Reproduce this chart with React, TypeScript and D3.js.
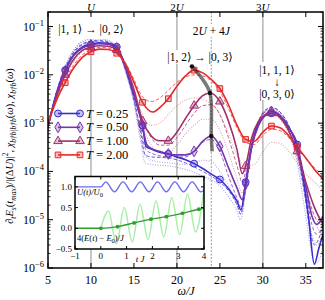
import React from "react"
import * as d3 from "d3"

type P = [number, number]

// main axes
const xTicks = [5, 10, 15, 20, 25, 30, 35]
const yExps = [-6, -5, -4, -3, -2, -1]
const resonances = [10, 20, 30]
const resLabels = ["U", "2U", "3U"]
const temps = ["0.25", "0.50", "1.00", "2.00"]
const colors = ["#3a2ed0", "#7436b0", "#a0306e", "#e52a2a"]
const markerX = [7, 10, 13, 16, 19, 22, 25, 28, 31, 34]

// solid curves (with markers)
const t025: P[] = [[5,9e-4],[6,4.2e-3],[7,1.25e-2],[8,2.6e-2],[9,3.8e-2],[10,4.3e-2],[11,4.6e-2],[12,4.5e-2],[13,3.8e-2],[14,1.5e-2],[14.7,5.6e-3],[15.5,1.9e-3],[16,9e-4],[16.4,3.3e-4],[17,2.9e-4],[18,2.5e-4],[19,2.3e-4],[20,2.0e-4],[21,1.75e-4],[22,1.45e-4],[23,1.15e-4],[24,8.8e-5],[25,6.8e-5],[26,4.4e-5],[27,2.4e-5],[27.45,1.6e-5],[28,6e-5],[28.6,2.6e-4],[29.3,8e-4],[30.2,1.4e-3],[31,1.6e-3],[32,1.35e-3],[33,8e-4],[34,3.6e-4],[34.7,7e-5],[35.3,1.2e-5],[36,1.2e-6],[36.5,2.5e-6],[37,5e-6]]
const t050: P[] = [[5,9e-4],[6,4e-3],[7,1.2e-2],[8,2.5e-2],[9,3.6e-2],[10,4.1e-2],[11,4.4e-2],[12,4.3e-2],[13,3.6e-2],[14,1.5e-2],[14.7,6e-3],[15.5,2e-3],[16,8.5e-4],[16.5,3.6e-4],[17,3e-4],[18,2.6e-4],[19,2.3e-4],[20,2.2e-4],[21,2.2e-4],[22,2.6e-4],[23,4.2e-4],[24,5.4e-4],[25,3.3e-4],[26,1.2e-4],[27,4.5e-5],[27.6,2.6e-5],[28,5.5e-5],[28.7,3.2e-4],[29.5,9e-4],[30.3,1.5e-3],[31,1.75e-3],[32,1.45e-3],[33,8.5e-4],[34,3.3e-4],[35,5e-5],[35.7,1.2e-5],[36.3,8e-6],[37,1.2e-5]]
const t100: P[] = [[5,9e-4],[6,3.6e-3],[7,1.0e-2],[8,2.1e-2],[9,3.2e-2],[10,3.7e-2],[11,4.0e-2],[12,3.9e-2],[13,3.3e-2],[14,1.6e-2],[15,5e-3],[16,1.1e-3],[17,5.5e-4],[18,4.3e-4],[19,4.3e-4],[20,6.5e-4],[21,1.25e-3],[22,2.3e-3],[23,3.7e-3],[23.85,4.2e-3],[25,2.8e-3],[26,1.1e-3],[27,2.8e-4],[27.6,9e-5],[28,1.3e-4],[28.7,5e-4],[29.5,1.1e-3],[30.3,1.5e-3],[31,1.6e-3],[32,1.3e-3],[33,7e-4],[34,2.6e-4],[35,6e-5],[36,1.8e-5],[37,8e-6]]
const t200: P[] = [[5,1e-3],[6,3e-3],[7,6.9e-3],[8,1.4e-2],[9,2.3e-2],[10,3.0e-2],[11,3.4e-2],[12,3.35e-2],[13,2.8e-2],[14,1.7e-2],[15,7e-3],[16,2.7e-3],[17.2,1.7e-3],[18,2.1e-3],[19,3.2e-3],[20,5.8e-3],[21,9.5e-3],[22,1.25e-2],[23,1.1e-2],[24,8e-3],[25,5.2e-3],[26,2.4e-3],[27,9e-4],[28,4.6e-4],[29,4.2e-4],[30,6.5e-4],[31,8.7e-4],[32,8e-4],[33,5.5e-4],[34,3.2e-4],[35,1.9e-4],[36,1.1e-4],[37,7e-5]]

// dashed curves
const t025d: P[] = [[5,8e-4],[6,4.5e-3],[7,1.4e-2],[8,3e-2],[9,4.4e-2],[10,5e-2],[11,5.2e-2],[12,4.8e-2],[13,3.6e-2],[14,1.3e-2],[15,3e-3],[15.8,6e-4],[16.3,2.2e-4],[17,2e-4],[19,1.9e-4],[21,1.5e-4],[23,1e-4],[25,6e-5],[26,4e-5],[27,2e-5],[27.4,1.3e-5],[28,5e-5],[28.6,3e-4],[29.5,1.1e-3],[30.3,1.8e-3],[31,2.1e-3],[32,1.7e-3],[33,9e-4],[34,2.5e-4],[34.8,4e-5],[35.5,6e-6],[36,3e-6],[36.5,4e-6],[37,8e-6]]
const t050d: P[] = [[5,8e-4],[6,4.3e-3],[7,1.35e-2],[8,2.9e-2],[9,4.2e-2],[10,4.8e-2],[11,5e-2],[12,4.6e-2],[13,3.5e-2],[14,1.3e-2],[15,3.2e-3],[15.8,7e-4],[16.4,2.8e-4],[17,2.4e-4],[19,2e-4],[21,2e-4],[22,2.6e-4],[23,4e-4],[24,4.6e-4],[25,2.6e-4],[26,8e-5],[27,2.8e-5],[27.5,1.8e-5],[28,4e-5],[28.7,3.5e-4],[29.5,1.1e-3],[30.3,1.9e-3],[31,2.1e-3],[32,1.7e-3],[33,9e-4],[34,2.8e-4],[35,4e-5],[35.7,8e-6],[36.3,5e-6],[37,8e-6]]
const t100d: P[] = [[5,9e-4],[6,3.9e-3],[7,1.15e-2],[8,2.5e-2],[9,3.7e-2],[10,4.3e-2],[11,4.5e-2],[12,4.2e-2],[13,3.3e-2],[14,1.5e-2],[15,4.5e-3],[16,1.2e-3],[17,5e-4],[18,3.5e-4],[19,3.5e-4],[20,5e-4],[21,9e-4],[22,1.6e-3],[23,2.3e-3],[24,2.4e-3],[25,1.5e-3],[26,5e-4],[27,1.3e-4],[27.6,6e-5],[28,1e-4],[28.7,4.5e-4],[29.5,1.1e-3],[30.3,1.7e-3],[31,1.8e-3],[32,1.4e-3],[33,7e-4],[34,2.2e-4],[35,4.5e-5],[36,1.2e-5],[37,7e-6]]
const t200d: P[] = [[5,1e-3],[6,3.3e-3],[7,8e-3],[8,1.6e-2],[9,2.6e-2],[10,3.3e-2],[11,3.7e-2],[12,3.6e-2],[13,3e-2],[14,1.8e-2],[15,8e-3],[16,3.5e-3],[17,2.8e-3],[18,3.3e-3],[19,4.8e-3],[20,7e-3],[21,9e-3],[22,1e-2],[23,9.5e-3],[24,7.5e-3],[25,4.5e-3],[26,2e-3],[27,8e-4],[28,4e-4],[29,3.6e-4],[30,5.5e-4],[31,7.5e-4],[32,7e-4],[33,5e-4],[34,3e-4],[35,1.9e-4],[36,1.2e-4],[37,8e-5]]

// dotted curves
const t025p: P[] = [[5,7e-4],[6,4.5e-3],[7,1.5e-2],[8,3.3e-2],[9,5e-2],[10,5.6e-2],[11,5.7e-2],[12,5.2e-2],[13,3.8e-2],[14,1.2e-2],[15,2.5e-3],[15.8,4e-4],[16.3,1.5e-4],[17,1.4e-4],[19,1.3e-4],[21,1.1e-4],[23,8e-5],[25,5e-5],[26,3e-5],[27,1.5e-5],[27.4,1e-5],[28,4e-5],[28.7,3e-4],[29.5,1e-3],[30.3,1.7e-3],[31,1.9e-3],[32,1.5e-3],[33,7e-4],[34,1.5e-4],[34.8,2e-5],[35.5,3e-6],[36,1.2e-6],[36.6,1.5e-6],[37,3e-6]]
const t050p: P[] = [[5,7e-4],[6,4.4e-3],[7,1.45e-2],[8,3.2e-2],[9,4.8e-2],[10,5.4e-2],[11,5.5e-2],[12,5e-2],[13,3.7e-2],[14,1.2e-2],[15,2.8e-3],[15.8,5e-4],[16.4,2e-4],[17,1.7e-4],[19,1.5e-4],[21,1.4e-4],[22,1.5e-4],[23,1.7e-4],[24,1.6e-4],[25,1e-4],[26,5e-5],[27,2e-5],[27.5,1.3e-5],[28,4e-5],[28.7,3e-4],[29.5,1e-3],[30.3,1.8e-3],[31,2e-3],[32,1.6e-3],[33,8e-4],[34,2e-4],[35,2.5e-5],[35.7,5e-6],[36.3,3e-6],[37,5e-6]]
const t100p: P[] = [[5,8e-4],[6,4e-3],[7,1.25e-2],[8,2.8e-2],[9,4.2e-2],[10,4.8e-2],[11,5e-2],[12,4.5e-2],[13,3.4e-2],[14,1.4e-2],[15,4e-3],[16,9e-4],[17,3.5e-4],[18,2.5e-4],[19,2.5e-4],[20,3.5e-4],[21,6e-4],[22,9e-4],[23,1.2e-3],[24,1.2e-3],[25,7e-4],[26,2.5e-4],[27,7e-5],[27.6,3.5e-5],[28,7e-5],[28.7,3.5e-4],[29.5,9e-4],[30.3,1.4e-3],[31,1.5e-3],[32,1.2e-3],[33,6e-4],[34,1.8e-4],[35,3.5e-5],[36,9e-6],[37,5e-6]]
const t200p: P[] = [[5,9e-4],[6,3.5e-3],[7,9e-3],[8,1.9e-2],[9,3e-2],[10,3.7e-2],[11,4e-2],[12,3.9e-2],[13,3.2e-2],[14,1.6e-2],[15,5e-3],[16,1.5e-3],[17,9e-4],[18,1e-3],[19,1.5e-3],[20,2.3e-3],[21,3e-3],[22,3.3e-3],[23,3.1e-3],[24,2.5e-3],[25,1.5e-3],[26,6e-4],[27,2.2e-4],[28,1.3e-4],[29,1.4e-4],[30,2.5e-4],[31,4e-4],[32,3.8e-4],[33,2.6e-4],[34,1.5e-4],[35,9e-5],[36,6e-5],[37,4e-5]]

const solid = [t025, t050, t100, t200]
const dashed = [t025d, t050d, t100d, t200d]
const dotted = [t025p, t050p, t100p, t200p]

// peak trajectory (thick grey)
const peakPath: P[] = [[21.75,1.5e-2],[22.9,8.5e-3],[23.85,4.2e-3],[24,5.4e-4],[24.1,2.6e-4]]
const peakDots: P[] = [[21.75,1.5e-2],[23.85,4.2e-3],[24,5.4e-4]]

// inset
const inXTicks = [-1, 0, 1, 2, 3, 4]
const inYTicks = [-0.5, 0, 0.5, 1.0]
const uT: P[] = [[-1,1],[0,1],[0.19,1.12],[0.53,0.88],[0.86,1.12],[1.2,0.88],[1.53,1.12],[1.87,0.88],[2.2,1.12],[2.54,0.88],[2.87,1.12],[3.21,0.88],[3.54,1.12],[3.88,0.88],[4,0.92]]
const eOsc: P[] = [[0,0],[0.3,0.42],[0.6,-0.38],[0.91,0.5],[1.22,-0.33],[1.52,0.58],[1.83,-0.27],[2.14,0.66],[2.44,-0.21],[2.75,0.74],[3.06,-0.15],[3.36,0.83],[3.67,-0.09],[4,0.95]]
const eMean: P[] = [[-1,0],[0,0],[0.65,0.04],[1.29,0.13],[1.94,0.22],[2.54,0.28],[3.16,0.36],[3.8,0.46],[4,0.48]]

const FONT = "'Liberation Serif', 'DejaVu Serif', serif"

const x = d3.scaleLinear().domain([5, 37]).range([48, 323])
const y = d3.scaleLog().domain([1e-6, 0.2]).range([268, 12])
const ix = d3.scaleLinear().domain([-1, 4]).range([75, 204])
const iy = d3.scaleLinear().domain([-0.5, 1.25]).range([249, 176.5])

const line = d3.line<P>().x(d => x(d[0])).y(d => y(d[1])).curve(d3.curveMonotoneX)
const inLine = d3.line<P>().x(d => ix(d[0])).y(d => iy(d[1])).curve(d3.curveMonotoneX)
const peakLine = d3.line<P>().x(d => x(d[0])).y(d => y(d[1])).curve(d3.curveCatmullRom)

const symbols = [d3.symbolCircle, d3.symbolDiamond, d3.symbolTriangle, d3.symbolSquare]
const symPath = (i: number) => d3.symbol().type(symbols[i]).size(i === 0 ? 38 : i === 1 ? 34 : 32)()

function Marker({ i, cx, cy }: { i: number; cx: number; cy: number }) {
  return (
    <path d={symPath(i) || ""} transform={`translate(${cx},${cy})`}
      fill={colors[i]} fillOpacity={0.3} stroke={colors[i]} strokeWidth={1} />
  )
}

export default function App() {
  const minorY: number[] = []
  yExps.forEach(e => {
    for (let k = 2; k <= 9; k++) {
      const v = k * Math.pow(10, e)
      if (v <= 0.2) minorY.push(v)
    }
  })
  const [x0, x1] = x.range()
  const [y0, y1] = y.range()

  return (
    <svg width={325} height={300} style={{ position: "fixed", left: 0, top: 0, background: "#fff" }}
      fontFamily={FONT}>
      <defs>
        <clipPath id="plot"><rect x={x0} y={y1} width={x1 - x0} height={y0 - y1} /></clipPath>
        <clipPath id="inset"><rect x={75} y={176.5} width={129} height={72.5} /></clipPath>
      </defs>

      {/* reference lines */}
      {resonances.map(r => (
        <line key={r} x1={x(r)} x2={x(r)} y1={y1} y2={y0} stroke="#b4b4b4" strokeWidth={1.5} />
      ))}
      <line x1={x(24)} x2={x(24)} y1={y1} y2={y0} stroke="#999" strokeWidth={1} strokeDasharray="2,1.5" />

      {/* curves */}
      <g clipPath="url(#plot)">
        {dotted.map((s, i) => (
          <path key={"p" + i} d={line(s) || ""} fill="none" stroke={colors[i]} strokeOpacity={0.45}
            strokeWidth={1.1} strokeDasharray="1,1.5" />
        ))}
        {dashed.map((s, i) => (
          <path key={"d" + i} d={line(s) || ""} fill="none" stroke={colors[i]} strokeOpacity={0.75}
            strokeWidth={1} strokeDasharray="3.5,2" />
        ))}
        {solid.map((s, i) => (
          <path key={"s" + i} d={line(s) || ""} fill="none" stroke={colors[i]} strokeWidth={1.6} />
        ))}
        {solid.map((s, i) =>
          s.filter(d => markerX.includes(d[0])).map(d => (
            <Marker key={i + "-" + d[0]} i={i} cx={x(d[0])} cy={y(d[1])} />
          ))
        )}
        <path d={peakLine(peakPath) || ""} fill="none" stroke="#222" strokeOpacity={0.6} strokeWidth={3.5} />
        {peakDots.map((d, k) => (
          <circle key={k} cx={x(d[0])} cy={y(d[1])} r={2.2} fill="#111" />
        ))}
      </g>

      {/* annotations */}
      <rect x={72} y={14} width={40} height={25} fill="#fff" />
      <text x={x(10)} y={33} textAnchor="middle" fontSize={11.5}>|1, 1⟩ → |0, 2⟩</text>
      <rect x={195} y={24} width={34} height={13} fill="#fff" />
      <text x={x(24)} y={35} textAnchor="middle" fontSize={11.5}>
        2<tspan fontStyle="italic">U</tspan> + 4<tspan fontStyle="italic">J</tspan>
      </text>
      <rect x={170} y={50} width={20} height={14} fill="#fff" />
      <text x={200} y={61} textAnchor="middle" fontSize={11.5}>|1, 2⟩ → |0, 3⟩</text>
      <rect x={256} y={62} width={42} height={38} fill="#fff" />
      <text x={277} y={74} textAnchor="middle" fontSize={11.5}>|1, 1, 1⟩</text>
      <text x={277} y={86} textAnchor="middle" fontSize={11.5}>↓</text>
      <text x={277} y={98} textAnchor="middle" fontSize={11.5}>|0, 3, 0⟩</text>

      {/* legend */}
      {temps.map((t, i) => {
        const ly = 113.5 + i * 13.8
        return (
          <g key={t}>
            <line x1={58} x2={80} y1={ly} y2={ly} stroke={colors[i]} strokeWidth={1.6} />
            <Marker i={i} cx={58} cy={ly} />
            <Marker i={i} cx={80} cy={ly} />
            <text x={86} y={ly + 4} fontSize={12.5}>
              <tspan fontStyle="italic">T</tspan> = {t}
            </text>
          </g>
        )
      })}

      {/* frame and ticks */}
      <rect x={x0} y={y1} width={x1 - x0} height={y0 - y1} fill="none" stroke="#000" strokeWidth={1.5} />
      {xTicks.map(t => (
        <g key={t}>
          <line x1={x(t)} x2={x(t)} y1={y0} y2={y0 - 5} stroke="#000" />
          <line x1={x(t)} x2={x(t)} y1={y1} y2={y1 + 5} stroke="#000" />
          <text x={x(t)} y={284} textAnchor="middle" fontSize={12}>{t}</text>
        </g>
      ))}
      {yExps.map(e => (
        <g key={e}>
          <line x1={x0} x2={x0 + 5} y1={y(Math.pow(10, e))} y2={y(Math.pow(10, e))} stroke="#000" />
          <line x1={x1} x2={x1 - 5} y1={y(Math.pow(10, e))} y2={y(Math.pow(10, e))} stroke="#000" />
          <text x={44} y={y(Math.pow(10, e)) + 4} textAnchor="end" fontSize={12}>
            10<tspan fontSize={8.5} dy={-5}>−{-e}</tspan>
          </text>
        </g>
      ))}
      {minorY.map((v, k) => (
        <g key={k}>
          <line x1={x0} x2={x0 + 2.5} y1={y(v)} y2={y(v)} stroke="#000" strokeWidth={0.8} />
          <line x1={x1} x2={x1 - 2.5} y1={y(v)} y2={y(v)} stroke="#000" strokeWidth={0.8} />
        </g>
      ))}
      {resonances.map((r, k) => (
        <text key={r} x={x(r)} y={10.5} textAnchor="middle" fontSize={11}>
          {resLabels[k].length > 1 ? resLabels[k][0] : ""}
          <tspan fontStyle="italic">U</tspan>
        </text>
      ))}

      {/* axis labels */}
      <text x={186} y={295} textAnchor="middle" fontSize={12} fontStyle="italic">ω/J</text>
      <text transform="translate(13,146) rotate(-90)" textAnchor="middle" fontSize={10.5}>
        <tspan fontStyle="italic">∂</tspan>
        <tspan fontStyle="italic" fontSize={7.5} baselineShift="-3">t</tspan>
        <tspan fontStyle="italic">E</tspan>
        <tspan fontStyle="italic" fontSize={7.5} baselineShift="-3">s</tspan>
        <tspan>(</tspan><tspan fontStyle="italic">t</tspan>
        <tspan fontStyle="italic" fontSize={7.5} baselineShift="-3">max</tspan>
        <tspan>)/|(Δ</tspan><tspan fontStyle="italic">U</tspan><tspan>)|</tspan>
        <tspan fontSize={7.5} baselineShift="5">2</tspan>
        <tspan>, </tspan><tspan fontStyle="italic">χ</tspan>
        <tspan fontStyle="italic" fontSize={7.5} baselineShift="-3">b†b|b†b</tspan>
        <tspan>(</tspan><tspan fontStyle="italic">ω</tspan><tspan>), </tspan>
        <tspan fontStyle="italic">χ</tspan>
        <tspan fontStyle="italic" fontSize={7.5} baselineShift="-3">b†b</tspan>
        <tspan>(</tspan><tspan fontStyle="italic">ω</tspan><tspan>)</tspan>
      </text>

      {/* inset */}
      <rect x={75} y={176.5} width={129} height={72.5} fill="#fff" />
      <g clipPath="url(#inset)">
        <path d={inLine(eOsc) || ""} fill="none" stroke="#a6f0a6" strokeWidth={1.5} />
        <path d={inLine(eMean) || ""} fill="none" stroke="#2f9e2f" strokeWidth={1.4} />
        {eMean.slice(1, 8).map((d, k) => (
          <circle key={k} cx={ix(d[0])} cy={iy(d[1])} r={1.9} fill="#2f9e2f" />
        ))}
        <path d={inLine(uT) || ""} fill="none" stroke="#6b6bef" strokeWidth={1.4} />
      </g>
      <text x={77} y={195} fontSize={8.5} fontStyle="italic">
        U(t)/U<tspan fontSize={6.5} fontStyle="normal" baselineShift="-2">0</tspan>
      </text>
      <text x={77} y={241} fontSize={8.5}>
        4(<tspan fontStyle="italic">E</tspan>(<tspan fontStyle="italic">t</tspan>) − <tspan fontStyle="italic">E</tspan>
        <tspan fontSize={6.5} baselineShift="-2">0</tspan>)/<tspan fontStyle="italic">J</tspan>
      </text>
      <rect x={75} y={176.5} width={129} height={72.5} fill="none" stroke="#000" strokeWidth={1.5} />
      {inXTicks.map(t => (
        <g key={t}>
          <line x1={ix(t)} x2={ix(t)} y1={249} y2={246} stroke="#000" />
          <line x1={ix(t)} x2={ix(t)} y1={176.5} y2={179.5} stroke="#000" />
          <text x={ix(t)} y={259} textAnchor="middle" fontSize={9}>{t < 0 ? "−" + -t : t}</text>
        </g>
      ))}
      {inYTicks.map(t => (
        <g key={t}>
          <line x1={75} x2={78} y1={iy(t)} y2={iy(t)} stroke="#000" />
          <line x1={204} x2={201} y1={iy(t)} y2={iy(t)} stroke="#000" />
          <text x={72} y={iy(t) + 3} textAnchor="end" fontSize={9}>{t < 0 ? "−" + (-t).toFixed(1) : t.toFixed(1)}</text>
        </g>
      ))}
      <text x={140} y={262} textAnchor="middle" fontSize={9} fontStyle="italic">t J</text>
    </svg>
  )
}
